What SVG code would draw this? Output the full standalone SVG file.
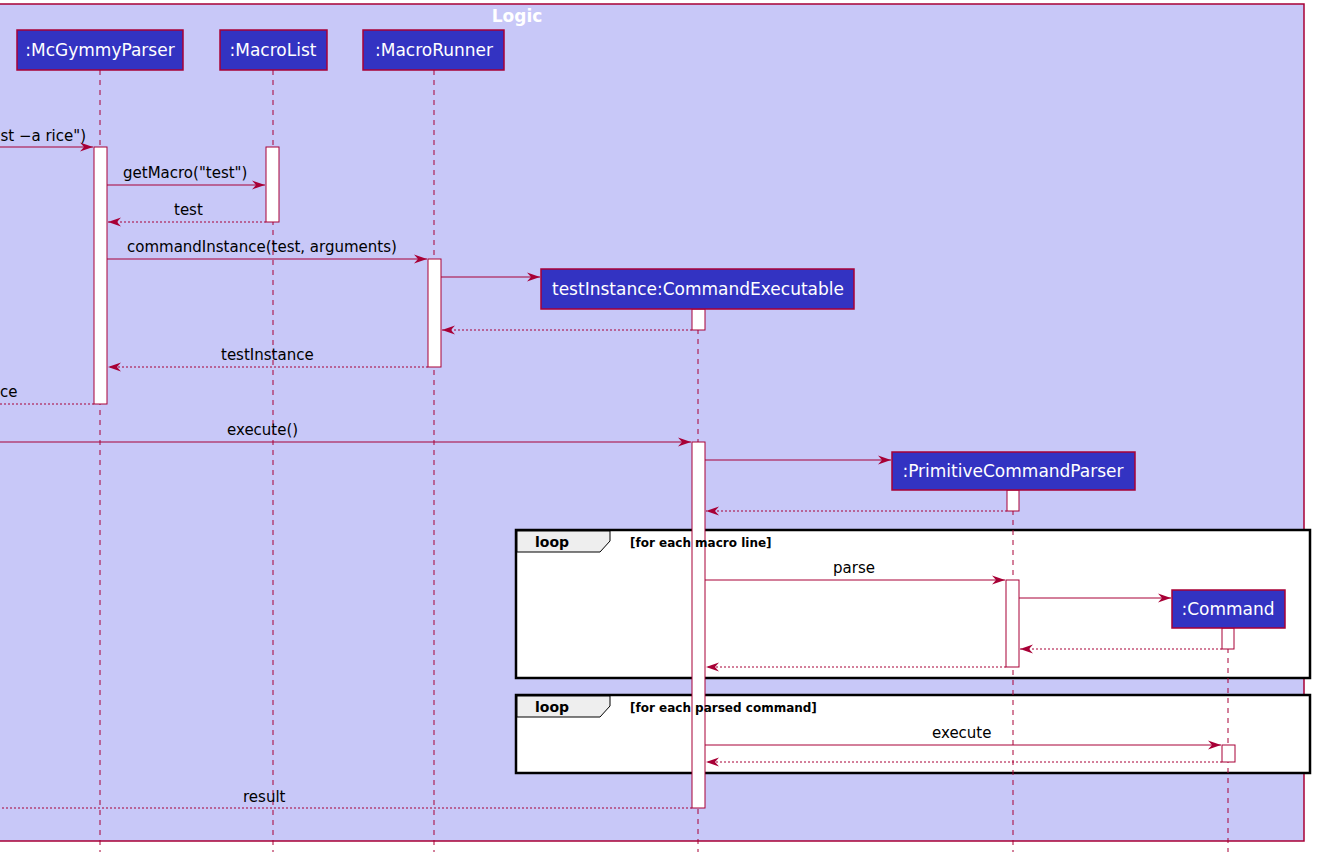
<svg xmlns="http://www.w3.org/2000/svg" width="1322" height="852" viewBox="0 0 1322 852">
<style>
.pkg{fill:#C8C8F8;stroke:#A80036;stroke-width:1.5}
.ptitle{font-family:"DejaVu Sans",sans-serif;font-size:17px;font-weight:bold;fill:#FFFFFF}
.part{fill:#3333C2;stroke:#A80036;stroke-width:1.5}
.plabel{font-family:"DejaVu Sans",sans-serif;font-size:17px;fill:#FFFFFF}
.life{stroke:#A80036;stroke-width:1;stroke-dasharray:5,5;fill:none}
.act{fill:#FFFFFF;stroke:#A80036;stroke-width:1}
.msg{stroke:#A80036;stroke-width:1;fill:none}
.ret{stroke:#A80036;stroke-width:1;stroke-dasharray:2,2;fill:none}
.mlabel{font-family:"DejaVu Sans",sans-serif;font-size:15px;fill:#000000}
.frame{fill:#FFFFFF;stroke:#000000;stroke-width:2.5}
.tab{fill:#EEEEEE;stroke:#000000;stroke-width:1}
.tabtxt{font-family:"DejaVu Sans",sans-serif;font-size:14px;font-weight:bold;fill:#000000}
.guard{font-family:"DejaVu Sans",sans-serif;font-size:12px;font-weight:bold;fill:#000000}
</style>
<defs>
<marker id="ah" markerUnits="userSpaceOnUse" markerWidth="16" markerHeight="12" refX="13" refY="6" orient="auto">
<path d="M0,1.5 L13,6 L0,10.5 L4,6 Z" fill="#A80036"/>
</marker>
</defs>
<rect x="0" y="0" width="1322" height="852" fill="#FFFFFF"/>
<g id="package-logic">
<rect class="pkg" x="-10" y="4" width="1314" height="837"/>
<text class="ptitle" x="517" y="22" text-anchor="middle">Logic</text>
</g>
<g id="loop-frames">
<g id="loop1">
<rect class="frame" x="516" y="530" width="794" height="148"/>
<path class="tab" d="M517,531 L610,531 L610,541 L600,552 L517,552 Z"/>
<text class="tabtxt" x="535" y="547">loop</text>
</g>
<g id="loop2">
<rect class="frame" x="516" y="695" width="794" height="78"/>
<path class="tab" d="M517,696 L610,696 L610,706 L600,717 L517,717 Z"/>
<text class="tabtxt" x="535" y="712">loop</text>
</g>
</g>
<g id="lifelines">
<line class="life" x1="100" y1="70" x2="100" y2="852"/>
<line class="life" x1="273" y1="70" x2="273" y2="852"/>
<line class="life" x1="434" y1="70" x2="434" y2="852"/>
<line class="life" x1="698" y1="309" x2="698" y2="852"/>
<line class="life" x1="1013" y1="490" x2="1013" y2="852"/>
<line class="life" x1="1228" y1="628" x2="1228" y2="852"/>
</g>
<g id="activations">
<rect class="act" x="94" y="147" width="13" height="257"/>
<rect class="act" x="266" y="147" width="13" height="75"/>
<rect class="act" x="428" y="259" width="13" height="108"/>
<rect class="act" x="692" y="309" width="13" height="21"/>
<rect class="act" x="692" y="442" width="13" height="366"/>
<rect class="act" x="1007" y="490" width="12" height="21"/>
<rect class="act" x="1006" y="580" width="13" height="87"/>
<rect class="act" x="1222" y="628" width="12" height="21"/>
<rect class="act" x="1222" y="745" width="13" height="17"/>
</g>
<g id="loop-guards">
<text class="guard" x="630" y="547">[for each macro line]</text>
<text class="guard" x="630" y="712">[for each parsed command]</text>
</g>
<g id="connectors">
<line class="msg" x1="-5" y1="147" x2="93" y2="147" marker-end="url(#ah)"/>
<text class="mlabel" x="86" y="141" text-anchor="end">st −a rice")</text>
<line class="msg" x1="107" y1="185" x2="265" y2="185" marker-end="url(#ah)"/>
<text class="mlabel" x="123" y="178">getMacro("test")</text>
<line class="ret" x1="266" y1="222" x2="108" y2="222" marker-end="url(#ah)"/>
<text class="mlabel" x="174" y="215">test</text>
<line class="msg" x1="107" y1="259" x2="427" y2="259" marker-end="url(#ah)"/>
<text class="mlabel" x="127" y="252">commandInstance(test, arguments)</text>
<line class="msg" x1="441" y1="277" x2="540" y2="277" marker-end="url(#ah)"/>
<line class="ret" x1="692" y1="330" x2="442" y2="330" marker-end="url(#ah)"/>
<line class="ret" x1="428" y1="367" x2="108" y2="367" marker-end="url(#ah)"/>
<text class="mlabel" x="221" y="360">testInstance</text>
<line class="ret" x1="94" y1="404" x2="-5" y2="404"/>
<text class="mlabel" x="0" y="397">ce</text>
<line class="msg" x1="-5" y1="442" x2="691" y2="442" marker-end="url(#ah)"/>
<text class="mlabel" x="227" y="435">execute()</text>
<line class="msg" x1="705" y1="460" x2="891" y2="460" marker-end="url(#ah)"/>
<line class="ret" x1="1007" y1="511" x2="706" y2="511" marker-end="url(#ah)"/>
<line class="msg" x1="705" y1="580" x2="1005" y2="580" marker-end="url(#ah)"/>
<text class="mlabel" x="833" y="573">parse</text>
<line class="msg" x1="1019" y1="598" x2="1171" y2="598" marker-end="url(#ah)"/>
<line class="ret" x1="1222" y1="649" x2="1020" y2="649" marker-end="url(#ah)"/>
<line class="ret" x1="1006" y1="667" x2="706" y2="667" marker-end="url(#ah)"/>
<line class="msg" x1="705" y1="745" x2="1221" y2="745" marker-end="url(#ah)"/>
<text class="mlabel" x="932" y="738">execute</text>
<line class="ret" x1="1222" y1="762" x2="706" y2="762" marker-end="url(#ah)"/>
<line class="ret" x1="692" y1="808" x2="-5" y2="808"/>
<text class="mlabel" x="243" y="802">result</text>
</g>
<g id="p-mcgymmyparser">
<rect class="part" x="17" y="30" width="166" height="40"/>
<text class="plabel" x="100" y="56" text-anchor="middle">:McGymmyParser</text>
</g>
<g id="p-macrolist">
<rect class="part" x="220" y="30" width="107" height="40"/>
<text class="plabel" x="273" y="56" text-anchor="middle">:MacroList</text>
</g>
<g id="p-macrorunner">
<rect class="part" x="363" y="30" width="141" height="40"/>
<text class="plabel" x="434" y="56" text-anchor="middle">:MacroRunner</text>
</g>
<g id="p-testinstance">
<rect class="part" x="541" y="269" width="313" height="40"/>
<text class="plabel" x="698" y="295" text-anchor="middle">testInstance:CommandExecutable</text>
</g>
<g id="p-primitivecommandparser">
<rect class="part" x="892" y="452" width="243" height="38"/>
<text class="plabel" x="1013" y="477" text-anchor="middle">:PrimitiveCommandParser</text>
</g>
<g id="p-command">
<rect class="part" x="1172" y="590" width="113" height="38"/>
<text class="plabel" x="1228" y="615" text-anchor="middle">:Command</text>
</g>
</svg>
